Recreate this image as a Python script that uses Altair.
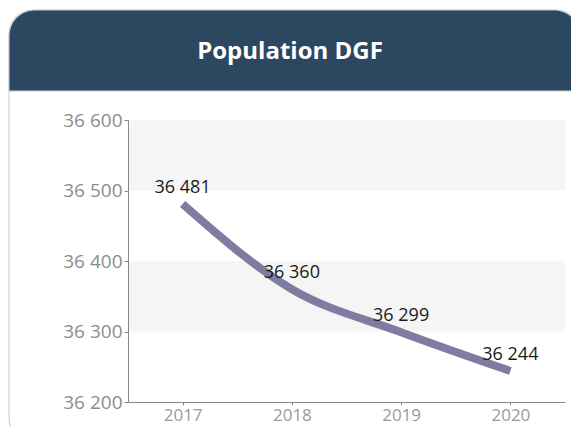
import altair as alt
import pandas as pd

years = ["2017", "2018", "2019", "2020"]
population = [36481, 36360, 36299, 36244]
y_ticks = [36200, 36300, 36400, 36500, 36600]
band_lo = [36500, 36300]
band_hi = [36600, 36400]
title_text = "Population DGF"

W, H = 437, 282
df = pd.DataFrame({"year": years, "pop": population})
bands = pd.DataFrame({"lo": band_lo, "hi": band_hi})

xscale = alt.Scale(type="point", padding=0.5)
yscale = alt.Scale(domain=[36200, 36600], nice=False, zero=False)
AX_FONT = "Open Sans"

card = alt.Chart(pd.DataFrame({"k": [0]})).mark_rect(
    fill="white", stroke="#d4d4d4", strokeWidth=1.2, cornerRadius=24
).encode(x=alt.value(-119), x2=alt.value(452), y=alt.value(-110), y2=alt.value(322))

header = alt.Chart(pd.DataFrame({"k": [0]})).mark_rect(
    fill="#2c4760", stroke="#c9d0d6", strokeWidth=1,
    cornerRadiusTopLeft=26, cornerRadiusTopRight=26
).encode(x=alt.value(-119), x2=alt.value(452), y=alt.value(-110), y2=alt.value(-29))

title = alt.Chart(pd.DataFrame({"t": [title_text]})).mark_text(
    color="white", font="Open Sans", fontWeight="bold", fontSize=24,
    align="center", baseline="middle"
).encode(x=alt.value(162), y=alt.value(-68), text="t:N")

band = alt.Chart(bands).mark_rect(fill="#f5f5f5").encode(
    x=alt.value(0), x2=alt.value(W),
    y=alt.Y("lo:Q", scale=yscale), y2="hi:Q"
)

base = alt.Chart(df).encode(
    x=alt.X("year:O", scale=xscale, title=None,
            axis=alt.Axis(labelAngle=0, labelColor="#9a9a9a", labelFontSize=17,
                          labelFont=AX_FONT, domainColor="#888888", tickColor="#888888",
                          tickSize=3, labelPadding=2, grid=False, zindex=1)),
    y=alt.Y("pop:Q", scale=yscale, title=None,
            axis=alt.Axis(values=y_ticks, labelColor="#8c8c8c", labelFontSize=19,
                          labelFont=AX_FONT, domainColor="#888888", tickColor="#888888",
                          tickSize=4, labelPadding=2, grid=False, zindex=1,
                          labelExpr="replace(format(datum.value, ','), ',', ' ')")),
)

line = base.mark_line(color="#7e7ca0", strokeWidth=8, interpolate="monotone", strokeCap="butt")

labels = base.transform_calculate(
    lab="replace(format(datum.pop, ','), ',', ' ')"
).mark_text(color="#1a1a1a", font=AX_FONT, fontSize=18, dy=-16, baseline="middle",
            align="center").encode(text="lab:N")

chart = alt.layer(card, header, title, band, line, labels).properties(
    width=W, height=H,
    autosize=alt.AutoSizeParams(type="none"),
    padding={"left": 120, "top": 112, "right": 6, "bottom": 25},
).configure_view(stroke=None).configure(background="white")

chart.save("out.html", embed_options={"renderer": "svg", "actions": False})
